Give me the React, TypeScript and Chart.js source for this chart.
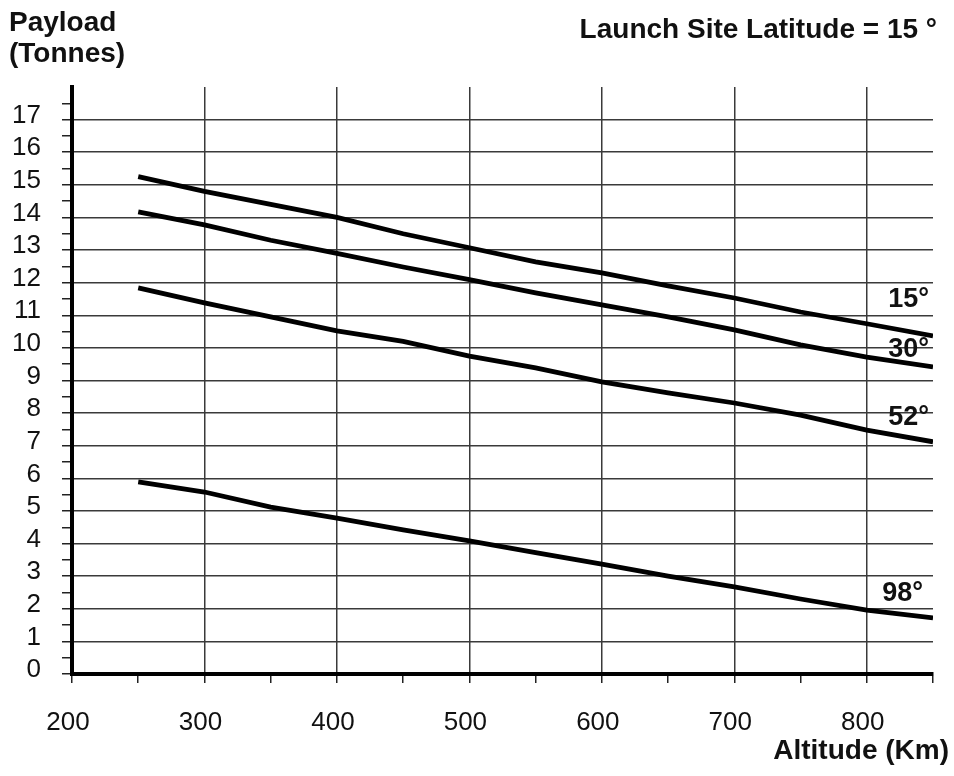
import React, { useEffect, useRef } from 'react';
import { Chart, registerables } from 'chart.js';

Chart.register(...registerables);

// ---- data ----
const ALTITUDES = [250, 300, 350, 400, 450, 500, 550, 600, 650, 700, 750, 800, 850];
const LAT_15 = [15.25, 14.8, 14.4, 14.0, 13.5, 13.07, 12.64, 12.3, 11.9, 11.53, 11.1, 10.74, 10.37];
const LAT_30 = [14.17, 13.77, 13.3, 12.9, 12.48, 12.09, 11.69, 11.32, 10.95, 10.55, 10.09, 9.72, 9.42];
const LAT_52 = [11.84, 11.38, 10.95, 10.52, 10.2, 9.75, 9.39, 8.96, 8.62, 8.31, 7.94, 7.48, 7.12];
const LAT_98 = [5.89, 5.58, 5.12, 4.78, 4.42, 4.08, 3.72, 3.37, 3.0, 2.67, 2.3, 1.96, 1.72];
const SERIES_LABELS = ['15°', '30°', '52°', '98°'];
const SERIES_VALUES = [LAT_15, LAT_30, LAT_52, LAT_98];
const X_MIN = 200;
const X_MAX = 850;
const Y_MIN = 0;
const Y_MAX = 18;
const TITLE = 'Launch Site Latitude = 15 °';
const Y_TITLE = ['Payload', '(Tonnes)'];
const X_TITLE = 'Altitude (Km)';

// ---- style ----
const FONT = '"Liberation Sans", Arial, Helvetica, sans-serif';
const LABEL_DY = [36, 17, 24, 24];
const LABEL_DX = [4, 4, 4, 10];

const textPlugin = {
  id: 'texts',
  afterDraw(chart: any) {
    const { ctx } = chart;
    const xs = chart.scales.x;
    const ys = chart.scales.y;
    ctx.save();
    ctx.fillStyle = '#111';
    ctx.textBaseline = 'alphabetic';
    ctx.font = `bold 28px ${FONT}`;
    ctx.textAlign = 'left';
    ctx.fillText(Y_TITLE[0], 9, 31);
    ctx.fillText(Y_TITLE[1], 9, 62);
    ctx.textAlign = 'right';
    ctx.fillText(TITLE, 937, 38);
    ctx.fillText(X_TITLE, 949, 759);
    ctx.font = `bold 27px ${FONT}`;
    ctx.textBaseline = 'middle';
    SERIES_VALUES.forEach((vals, i) => {
      const last = vals[vals.length - 1];
      const px = xs.getPixelForValue(ALTITUDES[ALTITUDES.length - 1]) - LABEL_DX[i];
      const py = ys.getPixelForValue(last) - LABEL_DY[i];
      ctx.fillText(SERIES_LABELS[i], px, py);
    });
    ctx.restore();
  },
};

export default function App() {
  const ref = useRef<HTMLCanvasElement>(null);
  useEffect(() => {
    if (!ref.current) return;
    const datasets = SERIES_VALUES.map((vals, i) => ({
      label: SERIES_LABELS[i],
      data: ALTITUDES.map((a, j) => ({ x: a, y: vals[j] })),
      borderColor: '#000',
      borderWidth: 4.8,
      pointRadius: 0,
      tension: 0,
      fill: false,
    }));
    const chart = new Chart(ref.current, {
      type: 'line',
      data: { datasets },
      options: {
        responsive: false,
        animation: false,
        layout: { padding: { left: 0, top: 87, right: 21, bottom: 0 } },
        plugins: { legend: { display: false }, tooltip: { enabled: false } },
        scales: {
          x: {
            type: 'linear',
            min: X_MIN,
            max: X_MAX,
            afterFit: (s: any) => {
              s.height = 102;
              s.paddingLeft = 0;
              s.paddingRight = 0;
            },
            border: { color: '#000', width: 4 },
            grid: {
              color: (c: any) => {
                const v = c.tick ? c.tick.value : 0;
                return v % 100 === 0 && v > X_MIN && v < X_MAX ? '#3a3a3a' : 'rgba(0,0,0,0)';
              },
              tickColor: '#222',
              lineWidth: 1.5,
              tickLength: 9,
            },
            ticks: {
              stepSize: 50,
              autoSkip: false,
              maxRotation: 0,
              padding: 24,
              labelOffset: -4,
              color: '#111',
              font: { family: FONT, size: 26 },
              callback: (v: any) => (Number(v) % 100 === 0 && Number(v) < X_MAX ? String(v) : ''),
            },
          },
          y: {
            type: 'linear',
            min: Y_MIN,
            max: Y_MAX,
            afterFit: (s: any) => {
              s.width = 72;
              s.paddingTop = 0;
              s.paddingBottom = 0;
            },
            border: { color: '#000', width: 4 },
            grid: {
              color: (c: any) => {
                const v = c.tick ? c.tick.value : 0;
                return Number.isInteger(v) && v > Y_MIN && v < Y_MAX ? '#3a3a3a' : 'rgba(0,0,0,0)';
              },
              tickColor: (c: any) => {
                const v = c.tick ? c.tick.value : 0;
                return v >= Y_MAX ? 'rgba(0,0,0,0)' : '#222';
              },
              lineWidth: 1.5,
              tickLength: 10,
            },
            ticks: {
              stepSize: 0.5,
              autoSkip: false,
              padding: 21,
              labelOffset: -4,
              color: '#111',
              font: { family: FONT, size: 26 },
              callback: (v: any) => (Number.isInteger(Number(v)) && Number(v) < Y_MAX ? String(v) : ''),
            },
          },
        },
      },
      plugins: [textPlugin],
    });
    return () => chart.destroy();
  }, []);
  return (
    <div style={{ position: 'absolute', left: 0, top: 0, width: 954, height: 776, background: '#fff' }}>
      <canvas ref={ref} width={954} height={776} style={{ display: 'block' }} />
    </div>
  );
}
